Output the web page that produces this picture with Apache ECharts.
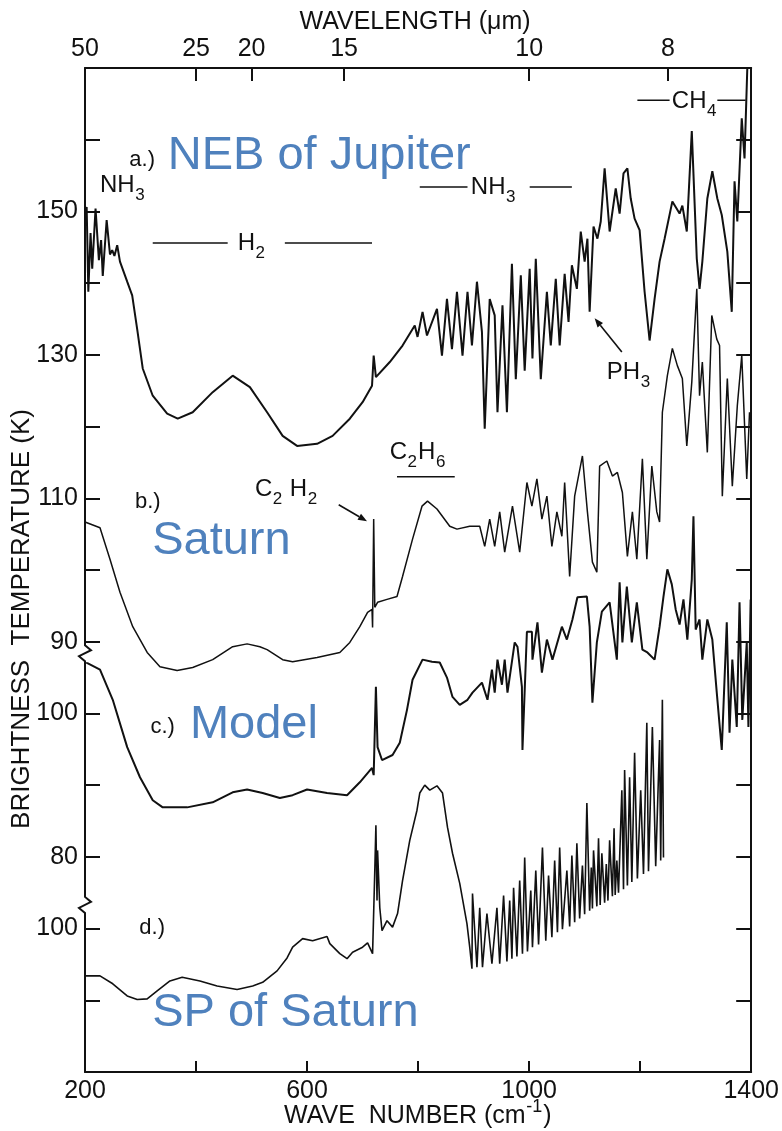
<!DOCTYPE html>
<html>
<head>
<meta charset="utf-8">
<script src="https://cdn.jsdelivr.net/npm/echarts@6/dist/echarts.min.js"></script>
<style>
html, body { margin: 0; padding: 0; background: #fff; }
#main { width: 782px; height: 1131px; }
</style>
</head>
<body>
<div id="main"></div>
<script>
// a.) NEB of Jupiter  (K, shared scale with b)
var aWn = [200,203,206,210,213,219,225,229,232,239,245,249,253,258,263,276,285,294,304,322,348,367,394,430,466,497,528,556,582,618,646,677,700,717,720,724,749,772,794,799,808,816,834,843,852,861,870,880,889,897,906,915,920,929,938,943,952,960,969,976,985,992,1001,1006,1012,1021,1032,1039,1048,1055,1064,1071,1077,1086,1093,1100,1105,1109,1116,1123,1129,1136,1145,1156,1163,1170,1177,1183,1190,1199,1208,1217,1226,1235,1244,1258,1271,1276,1284,1293,1302,1307,1312,1321,1330,1339,1347,1357,1365,1370,1375,1383,1388,1393,1398];
var aT = [149.8,150.6,138.8,147.0,142.0,150.4,143.2,146.0,141.0,148.8,144.0,144.6,143.8,145.3,143.0,140.2,138.3,133.6,128.1,124.3,121.8,121.1,122.0,124.8,127.1,125.5,122.0,118.7,117.3,117.6,118.7,121.1,123.4,125.7,129.9,126.9,129.0,131.3,134.1,132.5,136.0,132.7,136.4,129.9,137.8,130.8,138.8,129.9,138.8,131.3,140.2,133.2,119.7,137.8,135.5,122.0,136.9,122.0,142.7,126.6,141.1,127.8,142.0,129.5,143.4,126.6,138.8,131.3,140.6,131.3,141.3,134.6,142.5,139.2,147.2,143.0,146.2,136.0,147.9,146.2,148.6,156.0,147.2,153.2,149.7,155.3,156.0,151.8,149.0,147.4,138.8,132.0,137.8,143.0,146.2,151.4,149.7,150.8,147.2,161.2,143.4,139.2,143.0,151.8,155.6,151.8,149.5,144.4,136.0,154.2,148.6,163.0,157.4,170.0,172.0];

// b.) Saturn
var bWn = [200,227,245,263,286,312,335,366,394,430,466,492,515,528,556,574,618,659,677,695,709,717,718,720,722,727,744,762,772,790,807,817,834,857,870,893,911,920,929,938,947,956,970,983,996,1005,1014,1023,1032,1041,1050,1059,1064,1073,1082,1096,1105,1114,1122,1127,1140,1150,1159,1168,1177,1186,1194,1204,1212,1221,1230,1235,1240,1249,1258,1267,1276,1284,1293,1302,1307,1312,1321,1329,1338,1343,1348,1357,1366,1375,1383,1392,1397];
var bT = [106.7,105.9,101.5,96.9,92.1,88.5,86.5,86.0,86.4,87.5,89.3,89.7,89.3,88.9,87.5,87.2,87.8,88.5,89.9,92.1,94.1,94.5,92.0,107.1,94.8,95.5,95.9,96.3,99.1,104.3,108.9,109.6,108.5,106.1,105.7,106.1,106.1,103.3,107.1,103.3,108.1,102.5,108.9,102.5,112.2,108.9,112.7,107.1,110.3,103.3,108.1,104.7,112.2,99.1,110.3,115.9,108.1,101.1,99.7,114.5,115.2,113.1,113.6,110.8,101.9,108.1,101.5,115.5,101.5,114.5,108.1,106.7,122.0,127.1,130.9,128.5,126.7,117.3,126.2,139.2,124.3,129.0,116.4,135.5,132.2,131.3,110.3,126.7,111.7,122.9,129.9,112.7,122.0];

// c.) Model  (K, own scale: 100 / 80)
var cWn = [200,227,250,276,299,322,340,384,430,466,492,520,551,574,600,636,672,695,717,720,724,727,735,754,767,780,790,808,825,839,852,862,875,889,898,915,925,933,938,943,951,956,961,974,979,987,988,996,1005,1006,1015,1023,1032,1042,1059,1068,1078,1087,1104,1109,1114,1122,1131,1145,1158,1163,1168,1176,1185,1194,1204,1213,1226,1235,1242,1249,1257,1264,1271,1278,1285,1293,1296,1300,1307,1312,1321,1330,1338,1347,1356,1361,1366,1374,1379,1384,1392,1395,1399];
var cT = [107.2,106.1,101.9,95.3,91.1,87.9,86.9,86.9,87.6,89.0,89.4,88.9,88.2,88.6,89.4,88.9,88.6,90.4,92.4,91.4,103.7,95.3,93.5,94.2,95.9,100.5,104.7,107.5,107.2,107.1,105.0,102.3,101.2,101.9,102.9,104.3,101.9,106.1,102.9,107.5,104.0,107.5,102.9,109.9,109.3,103.7,94.9,111.4,111.4,107.5,112.7,105.7,110.3,107.5,112.1,110.3,113.1,116.2,116.3,112.1,101.5,109.9,114.2,115.5,107.5,118.3,109.9,117.7,109.9,115.5,108.9,108.5,107.5,112.1,116.3,120.1,118.0,114.5,112.4,115.9,110.3,118.7,127.5,111.7,113.1,107.5,113.1,110.3,102.9,94.9,112.7,97.3,107.5,98.1,115.5,99.1,109.9,98.1,115.9];

// d.) SP of Saturn  (K, own scale: 100)
var dWn = [200,227,250,276,294,312,330,353,375,407,438,474,502,520,546,564,574,592,610,636,641,659,672,682,700,709,718,722,724,726,727,731,735,744,754,763,772,785,798,803,812,821,834,844,853,862,875,888,893,897,898,906,911,916,924,933,942,947,954,960,965,969,972,978,983,988,992,997,1003,1006,1012,1017,1024,1030,1035,1041,1046,1051,1055,1060,1068,1073,1077,1082,1086,1091,1096,1100,1104,1109,1112,1114,1116,1122,1125,1128,1131,1136,1139,1142,1145,1150,1153,1155,1158,1161,1167,1170,1172,1177,1181,1185,1190,1195,1201,1206,1212,1215,1222,1228,1235,1237,1240,1242];
var dT = [93.4,93.4,92.3,90.6,90.1,90.2,91.3,92.7,93.2,92.7,92.0,91.5,92.0,92.5,94.1,95.9,97.4,98.6,98.3,98.9,97.9,96.5,95.8,96.7,97.4,98.0,96.5,108.1,114.4,103.9,110.9,102.9,99.7,101.1,100.2,102.1,106.7,112.3,116.5,118.9,120.0,119.3,119.9,118.9,114.1,110.5,106.3,100.7,97.4,94.4,104.9,94.6,102.9,94.6,102.1,95.1,102.9,95.1,104.6,95.4,103.9,95.8,105.7,96.1,106.7,96.5,109.9,96.8,105.3,97.4,108.1,97.8,111.3,98.3,107.4,98.8,109.5,99.5,111.3,99.9,108.1,100.3,110.2,100.9,111.9,101.4,108.8,102.0,117.5,102.5,108.5,102.8,110.9,103.1,112.6,103.3,110.5,103.6,109.0,103.9,112.3,104.5,114.0,104.7,109.5,105.0,119.3,105.5,122.1,106.0,121.1,106.5,124.5,107.0,119.3,107.6,128.7,108.0,128.1,108.7,126.3,109.5,131.9,109.9];

// ticks / labels
var bottomTicks = [400, 600, 800, 1000, 1200];
var bottomLabels = [200, 600, 1000, 1400];
var wavelengths = [50, 25, 20, 15, 10, 8];
var yTicks = [40, 50, 60, 70, 80, 90, 100, 110, 120, 130, 140, 150, 160];
// plot position -> printed label (three stacked scales)
var yLabelPos = [150, 130, 110, 90, 80, 60, 50];
var yLabelText = ['150', '130', '110', '90', '100', '80', '100'];

// vertical shift of the stacked panels
var offC = -20, offD = -50;

var INK = '#111';
var BLUE = '#4f81bd';
var FONT = "'Liberation Sans', Arial, sans-serif";

var chart = echarts.init(document.getElementById('main'));

function pairs(xs, ys, off) {
    return xs.map(function (x, i) { return [x, ys[i] + off]; });
}

function spectrum(name, xs, ys, off, w) {
    return {
        name: name, type: 'line', data: pairs(xs, ys, off),
        symbol: 'none', silent: true, z: 3,
        lineStyle: {color: INK, width: w}
    };
}

var tickStyle = {color: INK, width: 2};
var labelStyle = {color: INK, fontSize: 25, fontFamily: FONT};

chart.setOption({
    animation: false,
    backgroundColor: '#fff',
    grid: {left: 85, right: 30, top: 68, bottom: 59},
    xAxis: [{
        type: 'value', min: 200, max: 1400, position: 'bottom',
        axisLine: {onZero: false, lineStyle: {color: INK, width: 2}},
        axisTick: {inside: true, length: 11, lineStyle: tickStyle, customValues: bottomTicks},
        axisLabel: Object.assign({
            customValues: bottomLabels,
            formatter: function (v) { return String(v); },
            margin: 7
        }, labelStyle),
        splitLine: {show: false}
    }, {
        type: 'value', min: 200, max: 1400, position: 'top',
        axisLine: {onZero: false, lineStyle: {color: INK, width: 2}},
        axisTick: {inside: true, length: 13, lineStyle: tickStyle,
            customValues: wavelengths.slice(1).map(function (l) { return 10000 / l; })},
        axisLabel: Object.assign({
            customValues: wavelengths.map(function (l) { return 10000 / l; }),
            formatter: function (v) { return String(Math.round(10000 / v)); },
            margin: 6
        }, labelStyle),
        splitLine: {show: false}
    }],
    yAxis: [{
        type: 'value', min: 30, max: 170, position: 'left',
        axisLine: {onZero: false, lineStyle: {color: INK, width: 2}},
        axisTick: {inside: true, length: 15, lineStyle: tickStyle, customValues: yTicks},
        axisLabel: Object.assign({
            customValues: yLabelPos,
            formatter: function (v) { var i = yLabelPos.indexOf(v); return i < 0 ? '' : yLabelText[i]; },
            margin: 7
        }, labelStyle),
        splitLine: {show: false}
    }, {
        type: 'value', min: 30, max: 170, position: 'right',
        axisLine: {onZero: false, lineStyle: {color: INK, width: 2}},
        axisTick: {inside: true, length: 15, lineStyle: tickStyle, customValues: yTicks},
        axisLabel: {show: false},
        splitLine: {show: false}
    }],
    series: [
        spectrum('a', aWn, aT, 0, 2),
        spectrum('b', bWn, bT, 0, 1.5),
        spectrum('c', cWn, cT, offC, 2),
        spectrum('d', dWn, dT, offD, 1.6)
    ]
});

// ---- annotations ----
var ctx = document.createElement('canvas').getContext('2d');
function P(w, t) { return chart.convertToPixel({xAxisIndex: 0, yAxisIndex: 0}, [w, t]); }

function txt(x, y, s, fs, color, align, rot) {
    return {
        type: 'text', x: x, y: y, z: 100, rotation: rot || 0,
        style: {
            text: s, font: fs + 'px ' + FONT, fill: color || INK,
            align: align || 'left', verticalAlign: 'middle',
            textAlign: align || 'left', textVerticalAlign: 'middle'
        }
    };
}

// parts: [text, kind] kind 0 normal, 1 subscript, 2 superscript
function chemWidth(parts, fs) {
    var w = 0;
    parts.forEach(function (p) {
        var f = p[1] ? Math.round(fs * 0.72) : fs;
        ctx.font = f + 'px ' + FONT;
        w += ctx.measureText(p[0]).width + (p[1] ? 1 : 0.5);
    });
    return w;
}
function chem(x, y, parts, fs) {
    var out = [], cx = x;
    parts.forEach(function (p) {
        var f = p[1] ? Math.round(fs * 0.72) : fs;
        var dy = p[1] === 1 ? fs * 0.42 : (p[1] === 2 ? -fs * 0.36 : 0);
        out.push(txt(cx, y + dy, p[0], f));
        ctx.font = f + 'px ' + FONT;
        cx += ctx.measureText(p[0]).width + (p[1] ? 1 : 0.5);
    });
    return out;
}
function seg(p1, p2, w) {
    return {type: 'line', z: 100, shape: {x1: p1[0], y1: p1[1], x2: p2[0], y2: p2[1]},
        style: {stroke: INK, lineWidth: w || 1.5}};
}
function arrow(p1, p2) {
    var dx = p2[0] - p1[0], dy = p2[1] - p1[1], L = Math.sqrt(dx * dx + dy * dy);
    var ux = dx / L, uy = dy / L, h = 9, hw = 3.5;
    var bx = p2[0] - ux * h, by = p2[1] - uy * h;
    return [seg(p1, [bx, by], 1.6), {
        type: 'polygon', z: 100,
        shape: {points: [[p2[0], p2[1]], [bx - uy * hw, by + ux * hw], [bx + uy * hw, by - ux * hw]]},
        style: {fill: INK}
    }];
}
function breakMark(t) {
    var p = P(200, t), x = p[0], y = p[1];
    return [{
        type: 'rect', z: 99, shape: {x: x - 3, y: y - 9, width: 6, height: 18}, style: {fill: '#fff'}
    }, {
        type: 'polyline', z: 100,
        shape: {points: [[x, y - 10], [x, y - 8], [x + 6, y - 3], [x - 6, y + 3], [x, y + 8], [x, y + 10]]},
        style: {stroke: INK, lineWidth: 2, fill: null}
    }];
}

var g = [];
var BF = 24;

// axis titles
g.push(txt(415, 22, 'WAVELENGTH (\u03bcm)', 25, INK, 'center'));
var bt = [['WAVE  NUMBER (cm', 0], ['-1', 2], [')', 0]];
g = g.concat(chem(418 - chemWidth(bt, 25) / 2, 1116, bt, 25));
g.push(txt(22, 619, 'BRIGHTNESS  TEMPERATURE (K)', 26, INK, 'center', Math.PI / 2));

// panel letters
var q;
q = P(303, 157.2); g.push(txt(q[0], q[1], 'a.)', 22, INK, 'center'));
q = P(313, 109.5); g.push(txt(q[0], q[1], 'b.)', 22, INK, 'center'));
q = P(340, 78.1);  g.push(txt(q[0], q[1], 'c.)', 22, INK, 'center'));
q = P(321, 50.1);  g.push(txt(q[0], q[1], 'd.)', 22, INK, 'center'));

// blue names
q = P(349, 157.7); g.push(txt(q[0], q[1], 'NEB of Jupiter', 47, BLUE));
q = P(321, 104.0); g.push(txt(q[0], q[1], 'Saturn', 47, BLUE));
q = P(389, 78.4);  g.push(txt(q[0], q[1], 'Model', 47, BLUE));
q = P(321, 38.2);  g.push(txt(q[0], q[1], 'SP of Saturn', 47, BLUE));

// molecules
q = P(227, 153.7); g = g.concat(chem(q[0], q[1], [['NH', 0], ['3', 1]], BF));
g.push(seg(P(322, 145.6), P(457, 145.6)));
q = P(475, 145.6); g = g.concat(chem(q[0], q[1], [['H', 0], ['2', 1]], BF));
g.push(seg(P(560, 145.6), P(717, 145.6)));

g.push(seg(P(803, 153.4), P(889, 153.4)));
q = P(895, 153.4); g = g.concat(chem(q[0], q[1], [['NH', 0], ['3', 1]], BF));
g.push(seg(P(1001, 153.4), P(1077, 153.4)));

g.push(seg(P(1195, 165.5), P(1253, 165.5)));
q = P(1257, 165.3); g = g.concat(chem(q[0], q[1], [['CH', 0], ['4', 1]], BF));
g.push(seg(P(1339, 165.5), P(1390, 165.5)));

q = P(1140, 127.6); g = g.concat(chem(q[0], q[1], [['PH', 0], ['3', 1]], BF));
g = g.concat(arrow(P(1167, 130.4), P(1118, 135.1)));

q = P(506, 111.2); g = g.concat(chem(q[0], q[1], [['C', 0], ['2', 1], [' H', 0], ['2', 1]], BF));
g = g.concat(arrow(P(657, 109.1), P(708, 106.8)));

q = P(749, 116.4); g = g.concat(chem(q[0], q[1], [['C', 0], ['2', 1], ['H', 0], ['6', 1]], BF));
g.push(seg(P(762, 113.0), P(866, 113.0)));

// axis breaks between the stacked scales
g = g.concat(breakMark(88.4), breakMark(53.3));

chart.setOption({graphic: g});
</script>
</body>
</html>
